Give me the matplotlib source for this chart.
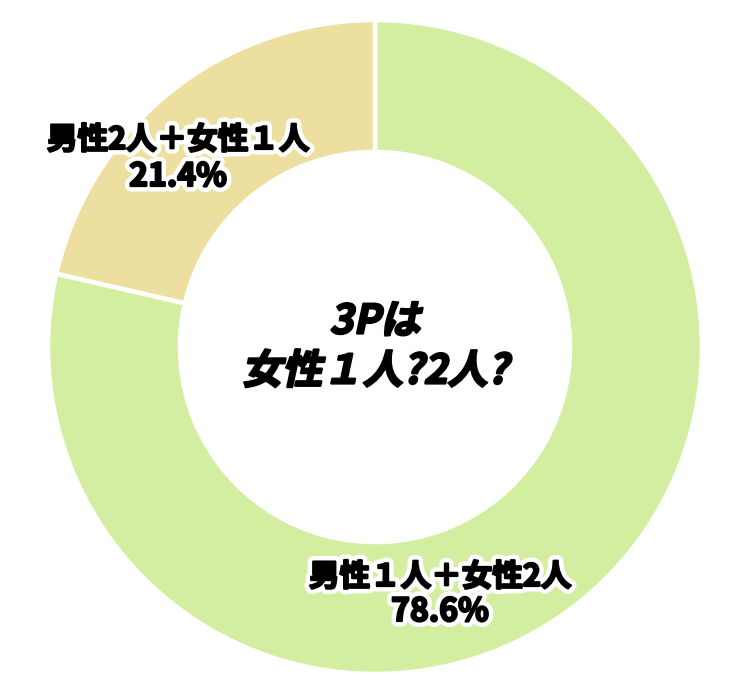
import matplotlib
matplotlib.use("Agg")
import matplotlib.pyplot as plt
from matplotlib import patheffects
from matplotlib.transforms import Affine2D

plt.rcParams["font.family"] = ["Noto Sans CJK JP", "DejaVu Sans"]

# Dados do gráfico
labels = ["男性１人＋女性2人", "男性2人＋女性１人"]
values = [78.6, 21.4]
colors = ["#d3eea0", "#ecdf9f"]
center_lines = ["3Pは", "女性１人?2人?"]


class Oblique(patheffects.AbstractPathEffect):
    """Inclina o texto e engrossa o traço (as fontes CJK não têm itálico)."""

    def __init__(self, angle=12, linewidth=1.5):
        super().__init__()
        self._skew = Affine2D().skew_deg(angle, 0)
        self._lw = linewidth

    def draw_path(self, renderer, gc, tpath, affine, rgbFace=None):
        gc0 = renderer.new_gc()
        gc0.copy_properties(gc)
        gc0.set_linewidth(self._lw)
        gc0.set_foreground("black")
        renderer.draw_path(gc0, tpath, self._skew + affine, rgbFace)
        gc0.restore()


W, H = 750, 696
fig = plt.figure(figsize=(W / 100, H / 100), dpi=100)
ax = fig.add_axes([0, 0, 1, 1])

cx, cy = 375, H - 347
ax.pie(
    values,
    colors=colors,
    startangle=90,
    counterclock=False,
    center=(cx, cy),
    radius=327,
    wedgeprops=dict(width=132, edgecolor="white", linewidth=3.3),
    frame=True,
)
ax.set_xlim(0, W)
ax.set_ylim(0, H)
ax.set_aspect("equal")
ax.axis("off")

outline = [
    patheffects.withStroke(linewidth=8, foreground="white"),
    patheffects.withStroke(linewidth=1.6, foreground="black"),
]

# Rótulos das fatias (posição em pixels da imagem)
label_pos = [(440, 577, 612), (178, 140, 177)]
for (x, y1, y2), name, val in zip(label_pos, labels, values):
    ax.text(x, H - y1, name, ha="center", va="center", fontsize=22,
            fontweight="bold", path_effects=outline)
    ax.text(x, H - y2, f"{val:.1f}%", ha="center", va="center", fontsize=23,
            fontweight="bold", path_effects=outline)

# Texto central
for line, y in zip(center_lines, [322, 372]):
    ax.text(cx, H - y, line, ha="center", va="center", fontsize=29,
            fontweight="bold", path_effects=[Oblique(12, 1.6)])

fig.savefig("out.png", dpi=100)
